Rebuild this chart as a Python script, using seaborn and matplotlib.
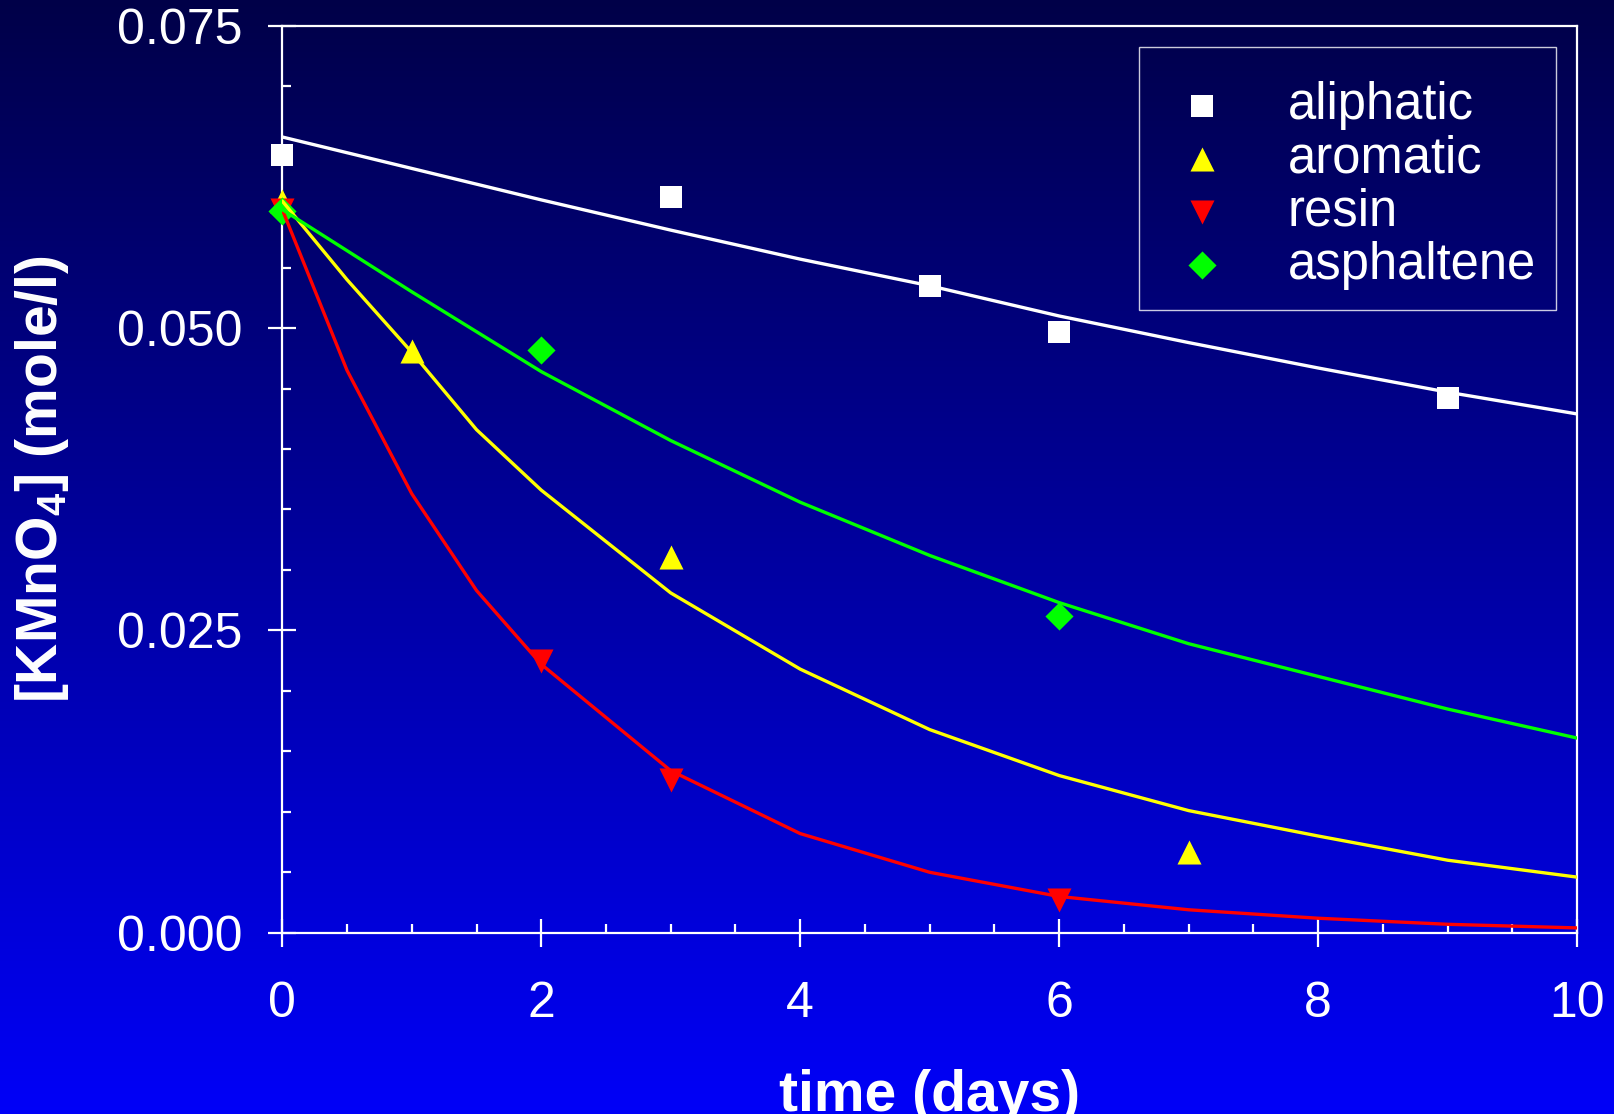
import numpy as np
import pandas as pd
import matplotlib
matplotlib.use("Agg")
import matplotlib.pyplot as plt
from matplotlib.ticker import MultipleLocator, FormatStrFormatter
import seaborn as sns

# ---- measured concentrations (points) ----
aliphatic_t = [0, 3, 5, 6, 9]
aliphatic_c = [0.0643, 0.0608, 0.0535, 0.0497, 0.0442]
aromatic_t = [0, 1, 3, 7]
aromatic_c = [0.0605, 0.0481, 0.0311, 0.0067]
resin_t = [0, 2, 3, 6]
resin_c = [0.0598, 0.0225, 0.0126, 0.0027]
asphaltene_t = [0, 2, 6]
asphaltene_c = [0.0597, 0.0482, 0.0262]

# ---- fitted decay curves ----
fit_t_fine = [0, 0.5, 1, 1.5, 2, 3, 4, 5, 6, 7, 8, 9, 10]
fit_t_int = [0, 1, 2, 3, 4, 5, 6, 7, 8, 9, 10]
aliphatic_fit = [0.0658, 0.0645, 0.0632, 0.0619, 0.0606, 0.0581, 0.0557,
                 0.0535, 0.0510, 0.0488, 0.0467, 0.0447, 0.0429]
aromatic_fit = [0.0605, 0.0540, 0.0480, 0.0416, 0.0366, 0.0281, 0.0218,
                0.0168, 0.0130, 0.0101, 0.0080, 0.0060, 0.0046]
resin_fit = [0.0598, 0.0465, 0.0363, 0.0283, 0.0222, 0.0134, 0.0082,
             0.0050, 0.0030, 0.0019, 0.0012, 0.0007, 0.0004]
asphaltene_fit = [0.0598, 0.0530, 0.0464, 0.0407, 0.0356, 0.0312, 0.0273,
                  0.0239, 0.0212, 0.0185, 0.0161]

series_names = ["aliphatic", "aromatic", "resin", "asphaltene"]
series_colors = ["#FFFFFF", "#FFFF00", "#FF0000", "#00FF00"]
series_markers = ["s", "^", "v", "D"]
series_sizes = [240, 300, 300, 205]

points = [
    (aliphatic_t, aliphatic_c),
    (aromatic_t, aromatic_c),
    (resin_t, resin_c),
    (asphaltene_t, asphaltene_c),
]
fits = [
    (fit_t_fine, aliphatic_fit),
    (fit_t_fine, aromatic_fit),
    (fit_t_fine, resin_fit),
    (fit_t_int, asphaltene_fit),
]

sns.set_theme(style="ticks")
plt.rcParams["font.family"] = ["Liberation Sans", "DejaVu Sans"]

fig = plt.figure(figsize=(16.15, 11.14), dpi=100)

# dark-navy to bright-blue vertical backdrop
bg = fig.add_axes([0, 0, 1, 1], zorder=-1)
top = np.array([0x00, 0x00, 0x48]) / 255.0
bottom = np.array([0x00, 0x00, 0xF8]) / 255.0
frac = np.linspace(0, 1, 512)[:, None]
grad = (top[None, :] * (1 - frac) + bottom[None, :] * frac)[:, None, :]
bg.imshow(grad, aspect="auto", extent=[0, 1, 0, 1], interpolation="bilinear")
bg.set_axis_off()

ax = fig.add_axes([0.1748, 0.1627, 0.8017, 0.8142])
ax.set_facecolor("none")

for name, color, marker, size, (t, c) in zip(series_names, series_colors,
                                              series_markers, series_sizes, points):
    df = pd.DataFrame({"time": t, "conc": c})
    sns.scatterplot(data=df, x="time", y="conc", ax=ax, color=color, marker=marker,
                    s=size, linewidth=0, label=name, zorder=3, clip_on=False)

for color, (t, c) in zip(series_colors, fits):
    df = pd.DataFrame({"time": t, "conc": c})
    sns.lineplot(data=df, x="time", y="conc", ax=ax, color=color, lw=2.4,
                 legend=False, zorder=4)

ax.set_xlim(0, 10)
ax.set_ylim(0, 0.075)
ax.xaxis.set_major_locator(MultipleLocator(2))
ax.xaxis.set_minor_locator(MultipleLocator(0.5))
ax.yaxis.set_major_locator(MultipleLocator(0.025))
ax.yaxis.set_minor_locator(MultipleLocator(0.005))
ax.yaxis.set_major_formatter(FormatStrFormatter("%.3f"))

for side in ["left", "right", "top", "bottom"]:
    ax.spines[side].set_color("white")
    ax.spines[side].set_linewidth(1.6)
    ax.spines[side].set_visible(True)

ax.tick_params(axis="both", which="major", direction="inout", length=20, width=1.6,
               colors="white", labelsize=36)
ax.tick_params(axis="both", which="minor", direction="in", length=6.5, width=1.6,
               colors="white")
ax.tick_params(axis="x", which="major", pad=25)
ax.tick_params(axis="y", which="major", pad=18.5)
ax.tick_params(top=False, right=False, which="both")

ax.set_xlabel("time (days)", fontsize=41, fontweight="bold", color="white")
ax.set_ylabel(r"[KMnO$_\mathregular{4}$] (mole/l)", fontsize=41, fontweight="bold",
              color="white")
ax.xaxis.set_label_coords(0.5, -0.150)
ax.yaxis.set_label_coords(-0.163, 0.5)

# a tiny blank title gives the legend a little extra headroom above the first row
leg = ax.legend(loc="upper right", bbox_to_anchor=(1556 / 1615, 1 - 47 / 1114),
                bbox_transform=fig.transFigure, borderaxespad=0, frameon=True,
                fancybox=False, fontsize=36.5, labelspacing=0.08, borderpad=0.4,
                handlelength=1.66, handletextpad=0.86, scatterpoints=1,
                title=" ", title_fontsize=8)
leg.get_frame().set_facecolor("none")
leg.get_frame().set_edgecolor("white")
leg.get_frame().set_linewidth(1.0)
for txt in leg.get_texts():
    txt.set_color("white")
for handle, size in zip(leg.legend_handles, series_sizes):
    handle.set_sizes([size])

fig.savefig("out.png", dpi=100)
